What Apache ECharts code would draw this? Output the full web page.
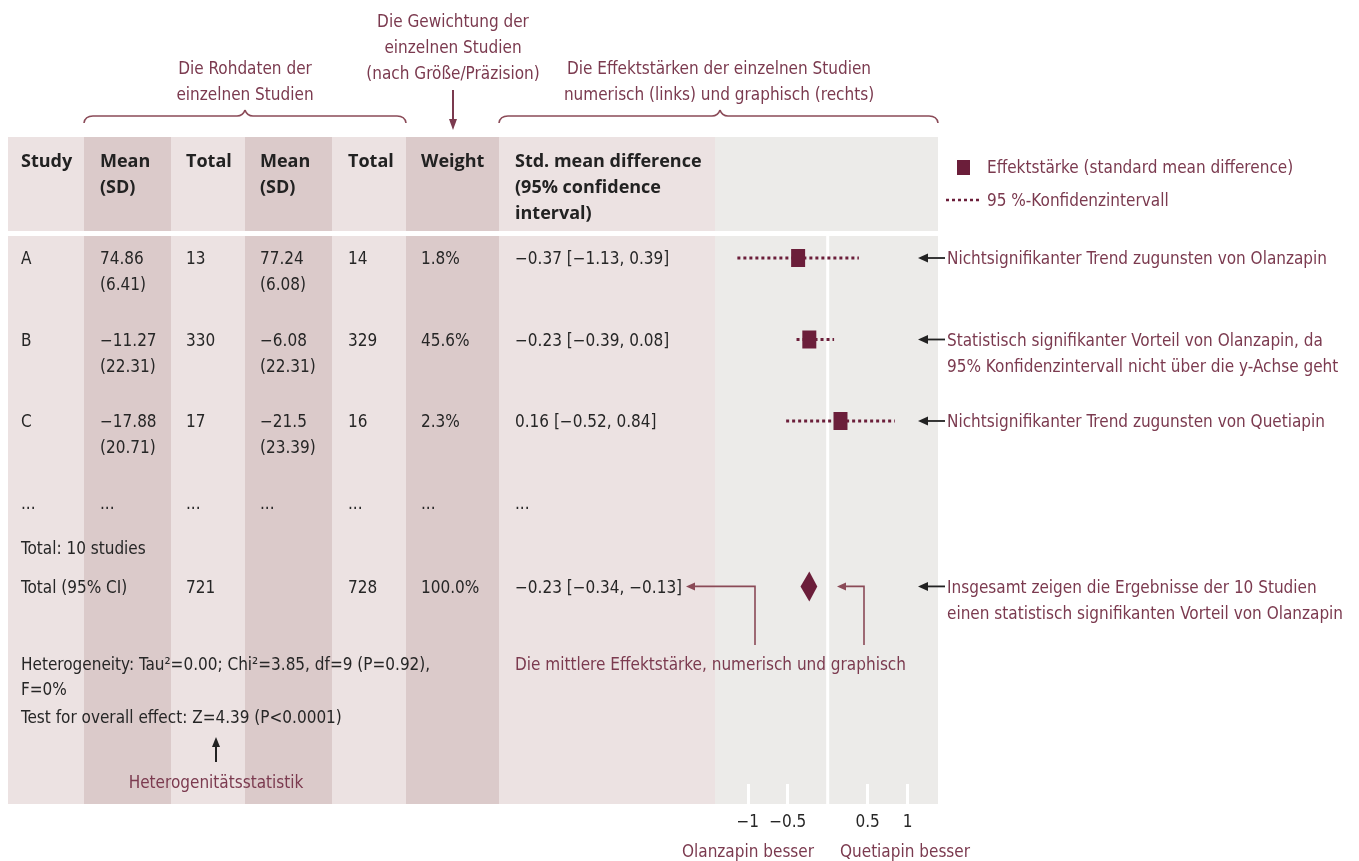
<!DOCTYPE html>
<html>
<head>
<meta charset="utf-8">
<title>Forest plot – Olanzapin vs. Quetiapin</title>
<script src="https://cdn.jsdelivr.net/npm/echarts@6/dist/echarts.min.js"></script>
<style>
  html, body { margin: 0; padding: 0; background: #fff; }
  #chart { width: 1359px; height: 861px; }
</style>
</head>
<body>
<div id="chart"></div>
<script>
// ---- study data ----
const studies   = ['A', 'B', 'C'];
const olaMean   = [74.86, -11.27, -17.88];
const olaSD     = [6.41, 22.31, 20.71];
const olaN      = [13, 330, 17];
const queMean   = [77.24, -6.08, -21.5];
const queSD     = [6.08, 22.31, 23.39];
const queN      = [14, 329, 16];
const weightPct = [1.8, 45.6, 2.3];
const smd       = [-0.37, -0.23, 0.16];
const ciLow     = [-1.13, -0.39, -0.52];
const ciHigh    = [0.39, 0.08, 0.84];

// pooled result
const totalOlaN   = 721;
const totalQueN   = 728;
const totalWeight = 100.0;
const totalSmd    = -0.23;
const totalLow    = -0.34;
const totalHigh   = -0.13;

const nStudies = 10;
const heterogeneity = { tau2: '0.00', chi2: '3.85', df: 9, p: '0.92', i2: '0%' };
const overall = { z: '4.39', p: '<0.0001' };

// axis ticks of the effect plot
const tickValues = [-1, -0.5, 0.5, 1];

// ---- layout (rows on the y scale, columns in pixels) ----
const studyRows = [1, 2, 3];
const dotsRow = 4;
const countRow = 4.55;
const totalRow = 5.03;

const colX = [21, 100, 186, 260, 348, 421, 515];

const COND = "'Liberation Sans Narrow','DejaVu Sans Condensed','Roboto Condensed',Roboto,sans-serif";
const BOLD = "'Open Sans','Noto Sans',sans-serif";
const FS = 17;
const DY = 2;          // baseline nudge for text
const TXT = '#262626';
const MAROON = '#7b3a4f';
const MARK = '#6b1e3a';
const LINEC = '#8a4a57';
const LIGHT = '#ece2e2';
const DARK = '#dbcaca';
const GRAY = '#ecebe9';

const minus = s => String(s).replace(/-/g, '\u2212');

const chart = echarts.init(document.getElementById('chart'), null, { renderer: 'canvas' });

chart.setOption({
  animation: false,
  backgroundColor: '#fff',
  grid: { left: 715, top: 236, width: 223, height: 568, show: true, backgroundColor: GRAY, borderWidth: 0 },
  xAxis: {
    type: 'value', min: -1.41, max: 1.38,
    axisLine: { show: false },
    splitLine: { show: false },
    axisTick: { show: true, inside: true, length: 20, customValues: tickValues, lineStyle: { color: '#fff', width: 3 } },
    axisLabel: { customValues: tickValues, formatter: v => minus(v), color: TXT, fontSize: FS, fontFamily: COND, margin: 10 }
  },
  yAxis: { type: 'value', inverse: true, min: 0.73, max: 7.7, show: false },
  series: [
    {
      // line of no effect
      type: 'custom', z: 1, silent: true,
      data: [[0]],
      renderItem: (params, api) => {
        const cs = params.coordSys;
        const x = api.coord([api.value(0), 1])[0];
        return { type: 'line', shape: { x1: x, y1: cs.y, x2: x, y2: cs.y + cs.height }, style: { stroke: '#fff', lineWidth: 3 } };
      }
    },
    {
      // 95% confidence intervals
      type: 'custom', z: 2, silent: true,
      data: studies.map((s, i) => [ciLow[i], ciHigh[i], studyRows[i]]),
      encode: { x: [0, 1], y: 2 },
      renderItem: (params, api) => {
        const a = api.coord([api.value(0), api.value(2)]);
        const b = api.coord([api.value(1), api.value(2)]);
        return { type: 'line', shape: { x1: a[0], y1: a[1], x2: b[0], y2: b[1] },
                 style: { stroke: MARK, lineWidth: 3, lineDash: [3, 3] } };
      }
    },
    {
      // effect sizes
      type: 'custom', z: 3, silent: true,
      data: studies.map((s, i) => [smd[i], studyRows[i]]),
      encode: { x: 0, y: 1 },
      renderItem: (params, api) => {
        const p = api.coord([api.value(0), api.value(1)]);
        return { type: 'rect', shape: { x: p[0] - 7, y: p[1] - 9, width: 14, height: 18 }, style: { fill: MARK } };
      }
    },
    {
      // pooled effect
      type: 'custom', z: 3, silent: true,
      data: [[totalLow, totalHigh, totalSmd, totalRow]],
      encode: { x: [0, 1, 2], y: 3 },
      renderItem: (params, api) => {
        const l = api.coord([api.value(0), api.value(3)]);
        const h = api.coord([api.value(1), api.value(3)]);
        const m = api.coord([api.value(2), api.value(3)]);
        return { type: 'polygon',
                 shape: { points: [[l[0], m[1]], [m[0], m[1] - 15], [h[0], m[1]], [m[0], m[1] + 15]] },
                 style: { fill: MARK } };
      }
    }
  ]
});

// ---- table, annotations and legend ----
const rowY = r => chart.convertToPixel({ yAxisIndex: 0 }, r);

const g = [];
function rect(x1, y1, x2, y2, fill) {
  g.push({ type: 'rect', z: -10, silent: true, shape: { x: x1, y: y1, width: x2 - x1, height: y2 - y1 }, style: { fill } });
}
function txt(x, y, s, o = {}) {
  g.push({ type: 'text', z: 10, silent: true, x, y: y + DY,
    style: { text: s, fill: o.fill || TXT, fontSize: o.size || FS, fontFamily: o.font || COND,
             fontWeight: o.weight || 'normal', align: o.align || 'left', verticalAlign: 'middle' } });
}
function bold(x, y, s) { txt(x, y, s, { font: BOLD, weight: 'bold', size: 18, fill: '#222' }); }
function mtxt(x, y, s, align) { txt(x, y, s, { fill: MAROON, align: align || 'left' }); }
function seg(x1, y1, x2, y2, color, w) {
  g.push({ type: 'line', z: 10, silent: true, shape: { x1, y1, x2, y2 }, style: { stroke: color, lineWidth: w || 1.6 } });
}
function curve(x1, y1, cx, cy, x2, y2, color) {
  g.push({ type: 'bezierCurve', z: 10, silent: true, shape: { x1, y1, cpx1: cx, cpy1: cy, x2, y2 }, style: { stroke: color, lineWidth: 1.6, fill: null } });
}
function poly(points, color) { g.push({ type: 'polyline', z: 10, silent: true, shape: { points }, style: { stroke: color, lineWidth: 1.6, fill: null } }); }
function head(points, fill) { g.push({ type: 'polygon', z: 10, silent: true, shape: { points }, style: { fill } }); }
function leftArrow(x, y, len, color) {
  seg(x + 7, y, x + len, y, color, 1.8);
  head([[x, y], [x + 10, y - 4.5], [x + 10, y + 4.5]], color);
}

// column shading
const cols = [[8, 84, LIGHT], [84, 171, DARK], [171, 245, LIGHT], [245, 332, DARK],
              [332, 406, LIGHT], [406, 499, DARK], [499, 715, LIGHT]];
cols.forEach(c => { rect(c[0], 137, c[1], 231, c[2]); rect(c[0], 236, c[1], 804, c[2]); });
rect(715, 137, 938, 231, GRAY);

// header
bold(colX[0], 160, 'Study');
bold(colX[1], 160, 'Mean'); bold(colX[1], 186, '(SD)');
bold(colX[2], 160, 'Total');
bold(colX[3], 160, 'Mean'); bold(colX[3], 186, '(SD)');
bold(colX[4], 160, 'Total');
bold(colX[5], 160, 'Weight');
bold(colX[6], 160, 'Std. mean difference');
bold(colX[6], 186, '(95% confidence');
bold(colX[6], 212, 'interval)');

// study rows
studies.forEach((s, i) => {
  const y = rowY(studyRows[i]);
  txt(colX[0], y, s);
  txt(colX[1], y, minus(olaMean[i])); txt(colX[1], y + 26, '(' + olaSD[i] + ')');
  txt(colX[2], y, String(olaN[i]));
  txt(colX[3], y, minus(queMean[i])); txt(colX[3], y + 26, '(' + queSD[i] + ')');
  txt(colX[4], y, String(queN[i]));
  txt(colX[5], y, weightPct[i] + '%');
  txt(colX[6], y, minus(smd[i]) + ' [' + minus(ciLow[i]) + ', ' + minus(ciHigh[i]) + ']');
});
const yd = rowY(dotsRow);
colX.forEach(x => txt(x, yd, '...'));
txt(colX[0], rowY(countRow), 'Total: ' + nStudies + ' studies');
const yt = rowY(totalRow);
txt(colX[0], yt, 'Total (95% CI)');
txt(colX[2], yt, String(totalOlaN));
txt(colX[4], yt, String(totalQueN));
txt(colX[5], yt, totalWeight.toFixed(1) + '%');
txt(colX[6], yt, minus(totalSmd) + ' [' + minus(totalLow) + ', ' + minus(totalHigh) + ']');

txt(colX[0], 664, 'Heterogeneity: Tau\u00B2=' + heterogeneity.tau2 + '; Chi\u00B2=' + heterogeneity.chi2 +
    ', df=' + heterogeneity.df + ' (P=' + heterogeneity.p + '),');
txt(colX[0], 689, 'F=' + heterogeneity.i2);
txt(colX[0], 717, 'Test for overall effect: Z=' + overall.z + ' (P' + overall.p + ')');

// heterogeneity pointer
seg(216, 762, 216, 745, '#222', 2);
head([[216, 737], [212, 747], [220, 747]], '#222');
mtxt(216, 782, 'Heterogenitätsstatistik', 'center');

// top annotations
mtxt(245, 68, 'Die Rohdaten der', 'center');
mtxt(245, 94, 'einzelnen Studien', 'center');
mtxt(453, 21, 'Die Gewichtung der', 'center');
mtxt(453, 47, 'einzelnen Studien', 'center');
mtxt(453, 73, '(nach Größe/Präzision)', 'center');
mtxt(719, 68, 'Die Effektstärken der einzelnen Studien', 'center');
mtxt(719, 94, 'numerisch (links) und graphisch (rechts)', 'center');

function brace(x1, xm, x2) {
  curve(x1, 123, x1 + 1, 116, x1 + 9, 116, LINEC);
  seg(x1 + 9, 116, xm - 8, 116, LINEC);
  curve(xm - 8, 116, xm - 2, 116, xm, 110, LINEC);
  curve(xm, 110, xm + 2, 116, xm + 8, 116, LINEC);
  seg(xm + 8, 116, x2 - 9, 116, LINEC);
  curve(x2 - 9, 116, x2 - 1, 116, x2, 123, LINEC);
}
brace(84, 245, 406);
brace(499, 720, 938);

// weight pointer
seg(453, 90, 453, 121, MAROON, 2);
head([[453, 130], [449, 119], [457, 119]], MAROON);

// legend
g.push({ type: 'rect', z: 10, silent: true, shape: { x: 957, y: 160, width: 13, height: 15 }, style: { fill: MARK } });
mtxt(987, 167, 'Effektstärke (standard mean difference)');
g.push({ type: 'line', z: 10, silent: true, shape: { x1: 946, y1: 200, x2: 982, y2: 200 }, style: { stroke: MARK, lineWidth: 2.5, lineDash: [3, 3] } });
mtxt(987, 200, '95 %-Konfidenzintervall');

// per-study remarks
const remarkY = [rowY(studyRows[0]), rowY(studyRows[1]), rowY(studyRows[2]), yt];
leftArrow(918, remarkY[0], 27, '#222');
mtxt(947, remarkY[0], 'Nichtsignifikanter Trend zugunsten von Olanzapin');
leftArrow(918, remarkY[1], 27, '#222');
mtxt(947, remarkY[1], 'Statistisch signifikanter Vorteil von Olanzapin, da');
mtxt(947, remarkY[1] + 26, '95% Konfidenzintervall nicht über die y-Achse geht');
leftArrow(918, remarkY[2], 27, '#222');
mtxt(947, remarkY[2], 'Nichtsignifikanter Trend zugunsten von Quetiapin');
leftArrow(918, remarkY[3], 27, '#222');
mtxt(947, remarkY[3], 'Insgesamt zeigen die Ergebnisse der 10 Studien');
mtxt(947, remarkY[3] + 26, 'einen statistisch signifikanten Vorteil von Olanzapin');

// pooled-effect pointers
poly([[755, 645], [755, yt], [693, yt]], LINEC);
head([[686, yt], [695, yt - 4], [695, yt + 4]], LINEC);
poly([[864, 645], [864, yt], [844, yt]], LINEC);
head([[837, yt], [846, yt - 4], [846, yt + 4]], LINEC);
mtxt(515, 664, 'Die mittlere Effektstärke, numerisch und graphisch');

// axis captions
mtxt(748, 851, 'Olanzapin besser', 'center');
mtxt(905, 851, 'Quetiapin besser', 'center');

chart.setOption({ graphic: g });
</script>
</body>
</html>
